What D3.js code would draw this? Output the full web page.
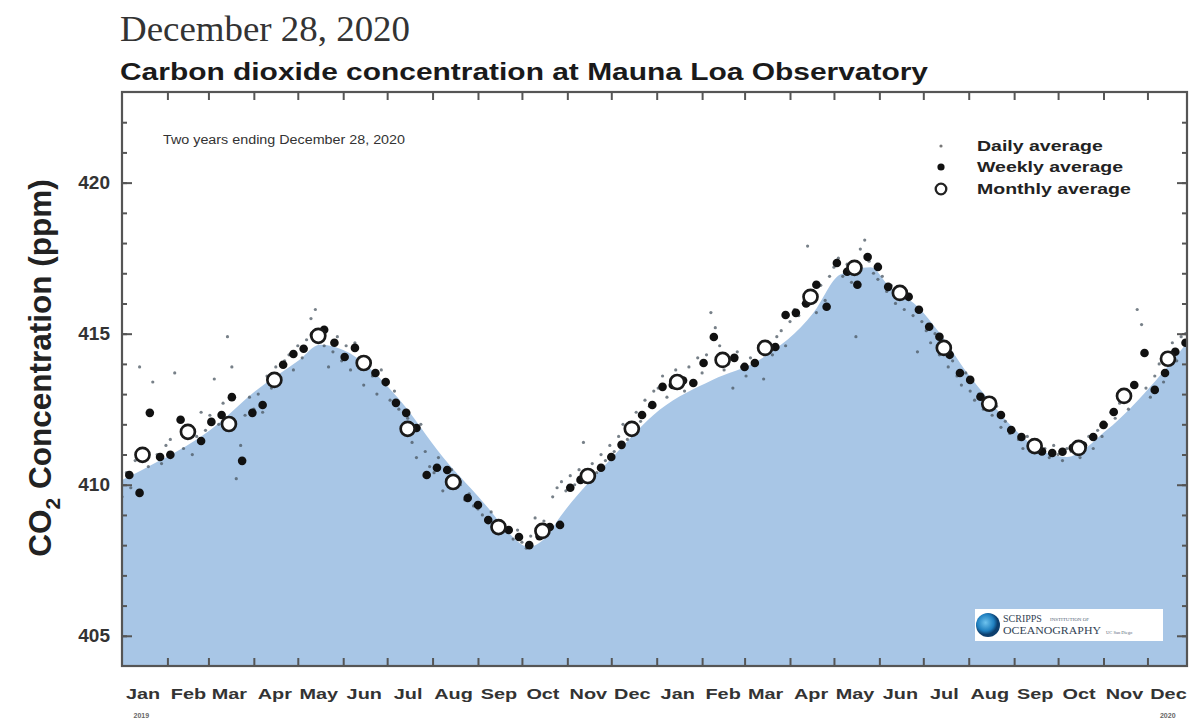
<!DOCTYPE html>
<html><head><meta charset="utf-8">
<script src="https://cdn.jsdelivr.net/npm/d3@7"></script>
<style>body{margin:0;background:#fff}svg{display:block}</style>
</head><body>
<svg id="c" width="1190" height="724"></svg>
<script>
// ---------------- DATA ----------------
const monthLabels = ["Jan","Feb","Mar","Apr","May","Jun","Jul","Aug","Sep","Oct","Nov","Dec"];
const yTicks = [405, 410, 415, 420];
// monthly averages, Jan 2019 .. Dec 2020 (ppm)
const monthlyValues = [410.99, 411.75, 412.01, 413.47, 414.93, 414.03, 411.85, 410.09, 408.60, 408.47, 410.29, 411.85,
                       413.40, 414.13, 414.53, 416.22, 417.18, 416.35, 414.53, 412.68, 411.28, 411.22, 412.94, 414.17];
// weekly averages, weeks starting Jan 6 2019, every 7 days
const weeklyValues = [410.32,409.73,412.38,410.92,410.99,412.15,411.70,411.45,412.08,412.31,
  412.90,410.79,412.38,412.64,413.47,413.97,414.33,414.50,414.96,415.13,
  414.70,414.23,414.53,413.97,413.70,413.40,412.71,412.38,411.88,410.32,
  410.56,410.49,410.09,409.56,409.33,408.83,408.60,408.50,408.27,408.00,
  408.30,408.60,408.67,409.90,410.16,410.26,410.56,410.92,411.32,411.88,
  412.31,412.64,413.24,413.30,413.45,413.37,414.03,414.89,414.13,414.20,
  413.90,414.03,414.40,414.56,415.62,415.69,416.00,416.62,415.89,417.34,
  417.05,416.62,417.54,417.21,416.55,416.40,416.22,415.79,415.23,414.90,
  414.30,413.70,413.47,412.91,412.64,412.31,411.81,411.58,411.35,411.10,
  411.05,411.09,411.22,411.30,411.58,411.98,412.41,412.85,413.30,414.36,
  413.14,413.70,414.40,414.70];
// daily values, every 3rd day from Jan 1 2019
const dailyValues = [
  409.6,410.4,409.9,410.8,413.9,411.2,410.6,413.4,411.0,410.7,411.3,
  411.5,413.7,412.1,411.2,411.9,411.0,411.6,412.4,411.8,
  412.3,413.5,412.0,412.7,414.9,413.9,410.2,411.3,412.3,412.9,
  412.5,413.0,412.4,413.6,413.2,413.9,413.4,414.1,414.3,413.8,
  414.6,414.2,414.8,415.5,415.8,415.0,414.6,413.9,414.4,414.9,
  414.1,414.6,413.8,414.7,414.2,413.3,414.0,413.6,413.0,413.8,413.3,
  412.8,413.1,412.5,411.9,412.2,411.4,410.9,412.0,411.1,410.6,
  410.4,410.9,409.8,410.2,410.5,409.9,410.0,409.5,409.7,409.3,
  409.2,409.0,408.8,409.1,408.6,408.4,408.7,408.5,408.2,408.5,
  408.1,407.9,408.3,408.9,408.6,408.8,408.5,409.6,409.9,410.1,409.8,
  410.3,410.0,410.5,411.4,410.2,410.7,410.4,411.0,410.8,411.3,
  411.1,411.6,412.0,411.5,411.9,412.4,412.1,412.8,412.6,413.1,
  413.2,413.6,412.9,413.3,413.8,413.5,413.1,413.9,413.4,414.2,
  413.7,414.3,415.7,415.2,414.6,413.8,414.0,413.2,414.4,413.9,
  413.6,414.2,414.0,414.5,413.5,414.7,414.3,414.9,415.1,414.6,
  415.4,415.8,415.6,416.0,417.9,416.3,415.7,416.6,416.1,416.9,
  417.2,417.5,416.9,417.3,416.7,414.9,417.8,418.1,417.4,417.0,416.8,
  416.9,416.4,416.6,416.0,416.3,415.8,416.2,415.6,414.4,415.4,
  415.1,414.7,415.0,414.3,414.6,413.9,414.1,413.6,413.3,413.7,
  413.1,412.8,413.0,412.5,412.7,412.3,412.6,411.9,412.1,411.7,
  411.8,411.5,411.2,411.6,411.3,411.1,411.4,411.2,410.9,411.3,
  411.0,410.8,411.2,411.1,411.4,410.9,411.3,411.6,411.2,411.8,
  411.6,412.0,412.4,412.2,412.7,413.0,412.5,413.3,415.8,415.3,
  413.2,412.9,413.6,414.0,413.4,414.3,414.7,414.1,414.9,415.0,null];
// shaded background curve: day offset from Jan 1 2019, ppm
const fillDays   = [0, 14, 60, 92, 121, 135, 151, 188, 219, 251, 258, 278, 290, 299, 335, 367, 403, 435, 472, 490, 511, 524, 543, 558, 577, 592, 608, 627, 645, 672, 706, 727];
const fillValues = [410.16,410.5,411.8,413.14,414.13,414.63,414.46,412.9,410.92,409.17,408.75,407.94,408.3,408.93,410.92,412.48,413.47,414.13,415.69,416.95,417.2,416.55,415.9,415.03,413.7,412.8,411.9,411.15,410.92,411.8,413.47,414.7];
const legendItems = ["Daily average","Weekly average","Monthly average"];

// ---------------- CHART ----------------
const svg = d3.select("#c");
const defs = svg.append("defs");
const L = 122, R = 1187, T = 92, B = 666;
const x = d3.scaleUtc().domain([new Date(Date.UTC(2019,0,1)), new Date(Date.UTC(2020,11,28))]).range([L, R]);
const y = d3.scaleLinear().domain([404, 423]).range([B, T]);
const day = d => new Date(Date.UTC(2019,0,1) + d*864e5);
const stretch = (sel, k) => sel.each(function(){ const w=this.getComputedTextLength();
  d3.select(this).attr("textLength", w*k).attr("lengthAdjust","spacingAndGlyphs"); });
const SANS = "Liberation Sans, Arial, Helvetica, sans-serif";

defs.append("clipPath").attr("id","clip")
  .append("rect").attr("x",L).attr("y",T).attr("width",R-L).attr("height",B-T);

// titles
svg.append("text").attr("x",120).attr("y",41).attr("font-family","Liberation Serif, Times New Roman, serif")
  .attr("font-size",35).attr("fill","#333").attr("textLength",290).attr("lengthAdjust","spacingAndGlyphs")
  .text("December 28, 2020");
svg.append("text").attr("x",120).attr("y",80).attr("font-family",SANS)
  .attr("font-weight","bold").attr("font-size",23.5).attr("fill","#1a1a1a")
  .attr("textLength",808).attr("lengthAdjust","spacingAndGlyphs")
  .text("Carbon dioxide concentration at Mauna Loa Observatory");

const plot = svg.append("g").attr("clip-path","url(#clip)");
// shaded area
const area = d3.area().x((d,i)=>x(day(fillDays[i]))).y0(B).y1(d=>y(d)).curve(d3.curveMonotoneX);
plot.append("path").datum(fillValues).attr("d",area).attr("fill","#a8c6e6");

// daily
plot.append("g").selectAll("circle").data(dailyValues.map((v,i)=>({d:day(i*3),v})).filter(p=>p.v!=null))
  .join("circle").attr("cx",p=>x(p.d)).attr("cy",p=>y(p.v)).attr("r",1.6).attr("fill","#4a5560").attr("opacity",0.75);
// weekly
plot.append("g").selectAll("circle").data(weeklyValues.map((v,i)=>({d:day(5+i*7),v})))
  .join("circle").attr("cx",p=>x(p.d)).attr("cy",p=>y(p.v)).attr("r",4.3).attr("fill","#111");
// monthly
plot.append("g").selectAll("circle").data(monthlyValues.map((v,i)=>({d:new Date(Date.UTC(2019,i,15)),v})))
  .join("circle").attr("cx",p=>x(p.d)).attr("cy",p=>y(p.v)).attr("r",7)
  .attr("fill","#fff").attr("stroke","#1a1a1a").attr("stroke-width",2.7);

// frame
svg.append("rect").attr("x",L).attr("y",T).attr("width",R-L).attr("height",B-T)
  .attr("fill","none").attr("stroke","#555").attr("stroke-width",2.2);

// axes ticks (inward)
const months = d3.utcMonth.range(new Date(Date.UTC(2019,1,1)), new Date(Date.UTC(2020,11,28)));
const axStyle = g => { g.select(".domain").remove(); g.selectAll("line").attr("stroke","#555").attr("stroke-width",2); };
svg.append("g").attr("transform",`translate(0,${T})`)
  .call(d3.axisBottom(x).tickValues(months).tickSize(8).tickFormat("")).call(axStyle);
svg.append("g").attr("transform",`translate(0,${B})`)
  .call(d3.axisTop(x).tickValues(months).tickSize(8).tickFormat("")).call(axStyle);
const minor = d3.range(405, 423, 1);
svg.append("g").attr("transform",`translate(${L},0)`)
  .call(d3.axisRight(y).tickValues(minor).tickSize(5).tickFormat("")).call(axStyle);
svg.append("g").attr("transform",`translate(${L},0)`)
  .call(d3.axisRight(y).tickValues(yTicks).tickSize(10).tickFormat("")).call(axStyle);
svg.append("g").attr("transform",`translate(${R},0)`)
  .call(d3.axisLeft(y).tickValues(minor).tickSize(5).tickFormat("")).call(axStyle);
svg.append("g").attr("transform",`translate(${R},0)`)
  .call(d3.axisLeft(y).tickValues(yTicks).tickSize(10).tickFormat("")).call(axStyle);

// y tick labels
svg.append("g").attr("transform",`translate(${L-12},0)`)
  .call(d3.axisLeft(y).tickValues(yTicks).tickSize(0).tickFormat(d3.format("d")))
  .call(g=>{g.select(".domain").remove();
    g.selectAll("text").attr("font-family",SANS).attr("font-weight","bold")
     .attr("font-size",19).attr("fill","#333").attr("x",0);});

// month labels
const mids = d3.range(24).map(i=>new Date(Date.UTC(2019,i,15)));
svg.append("g").attr("transform",`translate(0,${B})`)
  .call(d3.axisBottom(x).tickValues(mids).tickSize(0).tickFormat((d,i)=>monthLabels[i%12]))
  .call(g=>{g.select(".domain").remove();
    g.selectAll("text").attr("font-family",SANS).attr("font-weight","bold")
     .attr("font-size",15.5).attr("fill","#333").attr("dy",null).attr("y",33).call(stretch,1.28);});
svg.append("text").attr("x",x(mids[0])-9).attr("y",718).attr("font-family",SANS)
  .attr("font-weight","bold").attr("font-size",7).attr("fill","#666").text("2019");
svg.append("text").attr("x",x(mids[23])-8).attr("y",718).attr("font-family",SANS)
  .attr("font-weight","bold").attr("font-size",7).attr("fill","#666").text("2020");

// y title
const yt = svg.append("text").attr("transform","translate(51,368) rotate(-90)").attr("text-anchor","middle")
  .attr("font-family",SANS).attr("font-weight","bold").attr("font-size",31.5).attr("fill","#222");
yt.append("tspan").text("CO");
yt.append("tspan").attr("font-size",21).attr("dy",9).text("2");
yt.append("tspan").attr("dy",-9).text(" Concentration (ppm)");

// inner note
svg.append("text").attr("x",163).attr("y",144).attr("font-family",SANS)
  .attr("font-size",12.5).attr("fill","#333").attr("textLength",242).attr("lengthAdjust","spacingAndGlyphs")
  .text("Two years ending December 28, 2020");

// legend
const lg = svg.append("g").attr("font-family",SANS).attr("font-weight","bold")
  .attr("font-size",15).attr("fill","#222");
const ly = [146, 167, 189];
lg.append("circle").attr("cx",941).attr("cy",ly[0]).attr("r",1.6).attr("fill","#777");
lg.append("circle").attr("cx",941).attr("cy",ly[1]).attr("r",3.6).attr("fill","#111");
lg.append("circle").attr("cx",941).attr("cy",ly[2]).attr("r",5.3).attr("fill","#fff").attr("stroke","#222").attr("stroke-width",2.3);
lg.selectAll("text").data(legendItems).join("text").attr("x",977).attr("y",(d,i)=>ly[i]+5).text(d=>d).call(stretch,1.3);

// logo
const lo = svg.append("g");
lo.append("rect").attr("x",975).attr("y",609).attr("width",188).attr("height",32).attr("fill","#fff");
const grad = defs.append("radialGradient").attr("id","gl").attr("cx","40%").attr("cy","40%");
grad.append("stop").attr("offset","0%").attr("stop-color","#6ec3ee");
grad.append("stop").attr("offset","70%").attr("stop-color","#1f7fbf");
grad.append("stop").attr("offset","100%").attr("stop-color","#0d3f6e");
lo.append("circle").attr("cx",988).attr("cy",625).attr("r",12).attr("fill","url(#gl)");
lo.append("text").attr("x",1003).attr("y",622).attr("font-family","Liberation Serif, serif").attr("font-size",10).attr("fill","#345").text("SCRIPPS");
lo.append("text").attr("x",1050).attr("y",621).attr("font-family","Liberation Serif, serif").attr("font-size",5).attr("fill","#567").text("INSTITUTION OF");
lo.append("text").attr("x",1003).attr("y",634).attr("font-family","Liberation Serif, serif").attr("font-size",10).attr("fill","#345").attr("textLength",98).attr("lengthAdjust","spacingAndGlyphs").text("OCEANOGRAPHY");
lo.append("text").attr("x",1106).attr("y",634).attr("font-family","Liberation Serif, serif").attr("font-size",4.5).attr("fill","#567").text("UC San Diego");
</script>
</body></html>
